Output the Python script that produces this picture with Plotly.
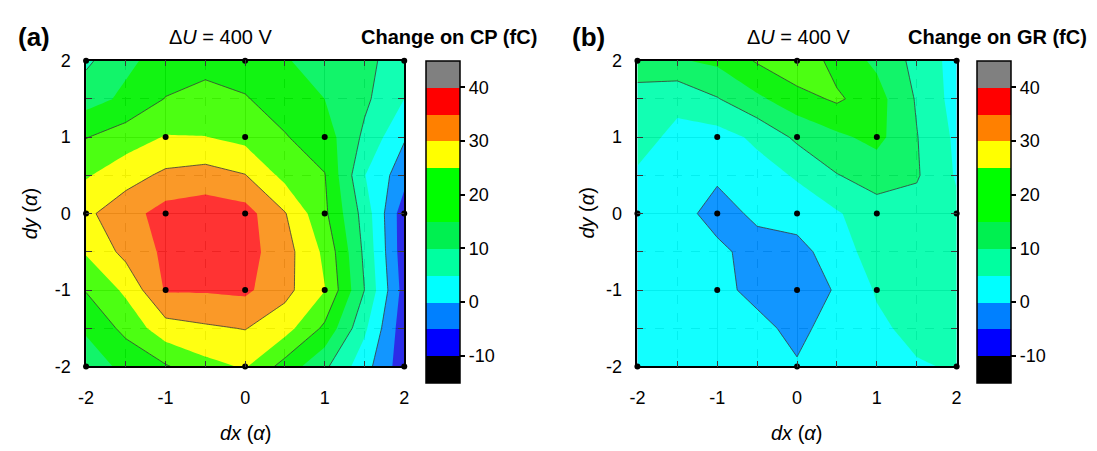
import plotly.graph_objects as go

# ---------------- data ----------------
grid_dx = [-2, -1.5, -1, -0.5, 0, 0.5, 1, 1.5, 2]
grid_dy = [-2, -1.5, -1, -0.5, 0, 0.5, 1, 1.5, 2]

# rows: dy = -2 ... 2 ; columns: dx = -2 ... 2
cp_change = [
    [13, 16, 19.5, 23.5, 25.5, 18, 11, 2, -8],
    [15.5, 21.5, 28, 29.3, 30.2, 27, 19, 6, -8],
    [20.3, 26, 35.5, 35.5, 36, 31.5, 25.2, 10, -7],
    [25.5, 31.5, 36, 38, 37, 32, 24, 9, -8],
    [29, 33, 37, 38, 37, 30.3, 21, 8, -8],
    [24.5, 28, 31, 32, 30.2, 23.5, 20.2, 5.2, -3],
    [19.8, 22.5, 25.3, 25.1, 23.5, 20.3, 17.5, 9, 0.5],
    [13, 16, 20.2, 21.5, 20.3, 18, 15, 11, 5],
    [9, 14, 17, 18.5, 18, 15.5, 12.5, 11, 8],
]
gr_change = [
    [3, 3, 3, 3, 0.5, 3, 4, 4.5, 5.5],
    [2.5, 2.5, 2.5, 1.5, -1.5, 2.5, 4, 6.5, 8],
    [2.5, 2.5, 1.5, -1.5, -3, 0.5, 5.5, 7, 8],
    [3, 2.5, 1.2, -2, -2, 3, 7, 8, 7.5],
    [3, 2, -2, 1, 2.5, 4.5, 8, 8, 6],
    [4.5, 2.5, 0.8, 3, 5.5, 9.8, 12, 10.5, 4.5],
    [6.5, 4, 3, 6, 11, 14, 16.5, 10.2, 4],
    [8.5, 6, 9.7, 14, 18, 20.8, 17, 9.5, 3],
    [12, 14.5, 16, 20.5, 24, 18, 14, 8.5, 3],
]

meas_dx = [-2, 0, 2, -1, 0, 1, -2, -1, 0, 1, 2, -1, 0, 1, -2, 0, 2]
meas_dy = [2, 2, 2, 1, 1, 1, 0, 0, 0, 0, 0, -1, -1, -1, -2, -2, -2]

axis_ticks = [-2, -1, 0, 1, 2]
axis_tick_labels = ["-2", "-1", "0", "1", "2"]
cbar_ticks = [-10, 0, 10, 20, 30, 40]
cbar_tick_labels = ["-10", "0", "10", "20", "30", "40"]

level_start, level_end, level_step = -15, 45, 5
line_start, line_step = 0, 10

# band colours, from lowest (-15..-10) to highest (40..45)
fill_colors = ["#000000", "#1D1DE6", "#008EFF", "#00FFFF", "#00FFAE", "#00F45F",
               "#00F400", "#3FFF00", "#FFFF00", "#FA9218", "#FF2424", "#808080"]
bar_colors = ["#000000", "#0000FF", "#0080FF", "#00FFFF", "#00FFA0", "#00F050",
              "#00FF00", "#00FF00", "#FFFF00", "#FF8000", "#FF0000", "#808080"]

# ---------------- styles ----------------
FONT = "Arial, 'Liberation Sans', sans-serif"
W, H = 1097, 451

nb = len(fill_colors)
nc = nb + 1
fill_scale = [[0, fill_colors[0]], [0.75 / nc, fill_colors[0]]]
for k, c in enumerate(fill_colors):
    a = (k + 0.75) / nc
    b = 1.0 if k == nb - 1 else (k + 1.75) / nc
    fill_scale += [[a, c], [b, c]]

bar_scale = []
for k, c in enumerate(bar_colors):
    bar_scale += [[k / nb, c], [(k + 1) / nb, c]]

panels = [
    dict(z=cp_change, xa="x", ya="y", xdom=(79, 401), cbx=423, line_end=30),
    dict(z=gr_change, xa="x2", ya="y2", xdom=(637, 960), cbx=981, line_end=20),
]

top_px, bot_px = 53, 373
ydom = [(H - bot_px) / H, (H - top_px) / H]

fig = go.Figure()
for p in panels:
    fig.add_trace(go.Contour(
        x=grid_dx, y=grid_dy, z=p["z"], xaxis=p["xa"], yaxis=p["ya"],
        autocontour=False,
        contours=dict(start=level_start, end=level_end, size=level_step,
                      coloring="fill", showlines=False),
        colorscale=fill_scale, showscale=False, line=dict(width=0, smoothing=0),
        opacity=0.93, hoverinfo="skip"))
    fig.add_trace(go.Contour(
        x=grid_dx, y=grid_dy, z=p["z"], xaxis=p["xa"], yaxis=p["ya"],
        autocontour=False,
        contours=dict(start=line_start, end=p["line_end"], size=line_step,
                      coloring="none"),
        line=dict(color="#3a3a3a", width=0.8, smoothing=0), showscale=False,
        hoverinfo="skip"))
    fig.add_trace(go.Scatter(
        x=meas_dx, y=meas_dy, xaxis=p["xa"], yaxis=p["ya"], mode="markers",
        marker=dict(color="black", size=6), hoverinfo="skip", cliponaxis=False))
    fig.add_trace(go.Scatter(
        x=[None], y=[None], xaxis=p["xa"], yaxis=p["ya"], mode="markers",
        marker=dict(color=[0], colorscale=bar_scale, cmin=level_start, cmax=level_end,
                    showscale=True,
                    colorbar=dict(
                        x=p["cbx"] / W, xanchor="left", xpad=0,
                        y=(H - top_px) / H, yanchor="top", ypad=0,
                        len=322, lenmode="pixels", thickness=34, thicknessmode="pixels",
                        outlinewidth=1.5, outlinecolor="black",
                        tickmode="array", tickvals=cbar_ticks, ticktext=cbar_tick_labels,
                        ticks="outside", ticklen=5, tickwidth=1.5, tickcolor="black",
                        tickfont=dict(family=FONT, size=18, color="black"))),
        hoverinfo="skip"))


def axis_cfg(dom, anchor, standoff):
    return dict(
        domain=[dom[0] / W, dom[1] / W], anchor=anchor, range=[-2, 2],
        tickmode="array", tickvals=axis_ticks, ticktext=axis_tick_labels,
        ticks="inside", ticklen=6, tickwidth=1.2, tickcolor="#3a3a3a",
        showline=True, linecolor="black", linewidth=1.5, mirror="ticks",
        showgrid=True, gridcolor="#202020", gridwidth=1.2, zeroline=False,
        tickfont=dict(family=FONT, size=18, color="black"), ticklabelstandoff=standoff,
        minor=dict(tick0=0, dtick=0.5, ticks="inside", ticklen=6, tickwidth=1.2,
                   tickcolor="#3a3a3a", showgrid=True, gridcolor="#202020",
                   griddash="dash", gridwidth=1.2),
        fixedrange=True)


fig.update_layout(
    width=W, height=H, margin=dict(l=0, r=0, t=0, b=0),
    paper_bgcolor="white", plot_bgcolor="white", showlegend=False,
    font=dict(family=FONT, color="black"),
    xaxis=axis_cfg(panels[0]["xdom"], "y", 14),
    yaxis={**axis_cfg((0, 0), "x", 10), "domain": ydom},
    xaxis2=axis_cfg(panels[1]["xdom"], "y2", 14),
    yaxis2={**axis_cfg((0, 0), "x2", 10), "domain": ydom},
)

annotations = [
    dict(text="<b>(a)</b>", x=8, y=28, size=26, anchor="left"),
    dict(text="Δ<i>U</i> = 400 V", x=216, y=28, size=20, anchor="center"),
    dict(text="<b>Change on CP (fC)</b>", x=537, y=28, size=20, anchor="right"),
    dict(text="<b>(b)</b>", x=569, y=28, size=26, anchor="left"),
    dict(text="Δ<i>U</i> = 400 V", x=800, y=28, size=20, anchor="center"),
    dict(text="<b>Change on GR (fC)</b>", x=1094, y=28, size=20, anchor="right"),
    dict(text="<i>dx</i> (<i>α</i>)", x=240, y=443, size=20, anchor="center"),
    dict(text="<i>dx</i> (<i>α</i>)", x=798, y=443, size=20, anchor="center"),
]
for a in annotations:
    fig.add_annotation(text=a["text"], xref="paper", yref="paper",
                       x=a["x"] / W, y=(H - a["y"]) / H, xanchor=a["anchor"],
                       yanchor="middle", showarrow=False,
                       font=dict(family=FONT, size=a["size"], color="black"))
for xc in (22, 585):
    fig.add_annotation(text="<i>dy</i> (<i>α</i>)", xref="paper", yref="paper",
                       x=xc / W, y=(H - 213) / H, xanchor="center", yanchor="middle",
                       textangle=-90, showarrow=False,
                       font=dict(family=FONT, size=20, color="black"))

fig.write_html("out.html")
